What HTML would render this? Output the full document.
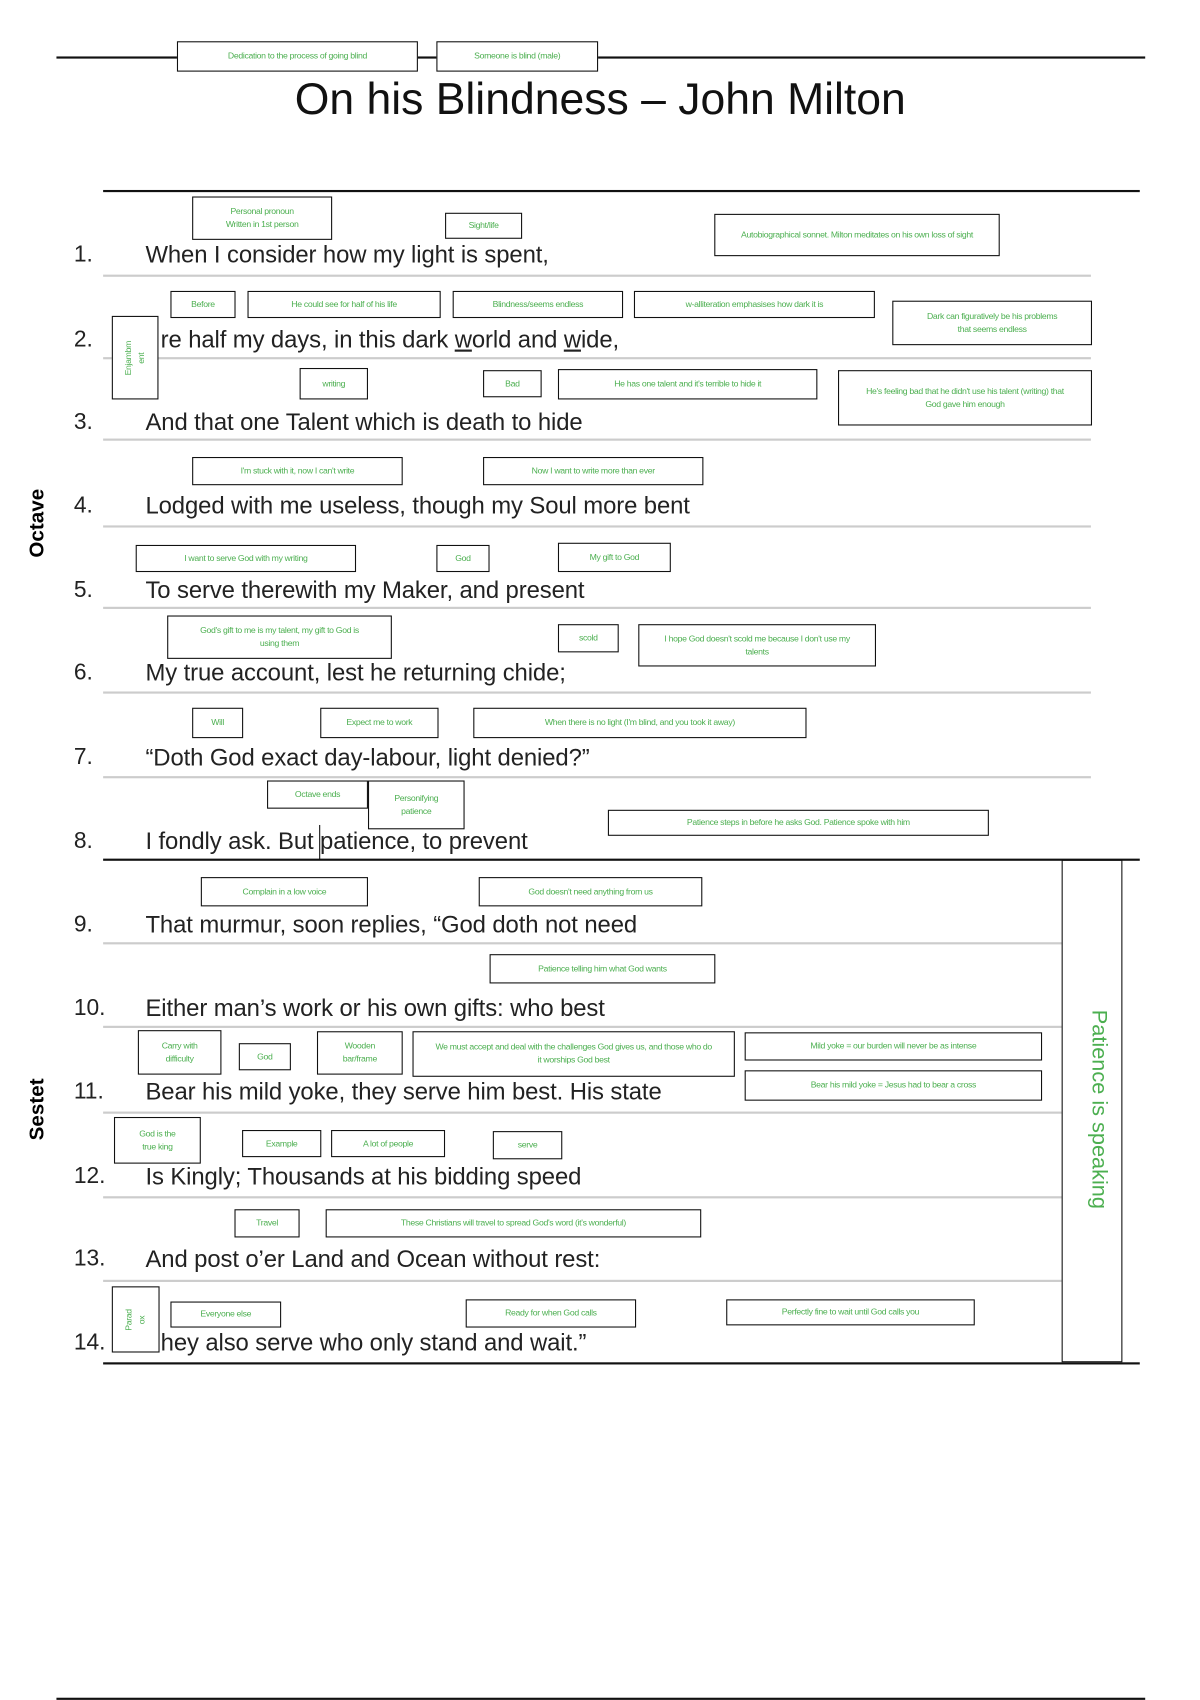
<!DOCTYPE html>
<html><head><meta charset="utf-8"><style>
html,body{margin:0;padding:0;background:#fff;}
body{width:1200px;height:1700px;overflow:hidden;position:relative;}
#c{position:absolute;left:0;top:0;width:1106px;height:1566px;transform:scale(1.0855);transform-origin:0 0;font-family:"Liberation Sans",sans-serif;}
.l{position:absolute;height:0;}
.b{position:absolute;border:1.6px solid #111;background:#fff;box-sizing:border-box;display:flex;align-items:center;justify-content:center;text-align:center;color:#4caf50;font-size:8px;letter-spacing:-0.3px;line-height:12px;padding:0 8px;}
.t{position:absolute;font-size:22px;line-height:24px;color:#222;white-space:nowrap;letter-spacing:-0.1px;}
.n{position:absolute;font-size:21px;line-height:24px;color:#222;left:68px;}
.v{position:absolute;transform:translate(-50%,-50%) rotate(-90deg);white-space:nowrap;}
</style></head><body><div id="c">
<div class="l" style="left:52px;top:52px;width:1003px;border-top:2px solid #111"></div>
<div class="b" style="left:163px;top:38px;width:222px;height:28px">Dedication to the process of going blind</div>
<div class="b" style="left:402px;top:38px;width:149px;height:28px">Someone is blind (male)</div>
<div style="position:absolute;left:0;width:1106px;top:68px;text-align:center;font-size:41px;line-height:46px;color:#111">On his Blindness – John Milton</div>

<div class="l" style="left:95px;top:175px;width:955px;border-top:2.5px solid #111"></div>
<div class="l" style="left:95px;top:253px;width:910px;border-top:2px solid #ccc"></div>
<div class="l" style="left:95px;top:329px;width:910px;border-top:2px solid #ccc"></div>
<div class="l" style="left:95px;top:404px;width:910px;border-top:2px solid #ccc"></div>
<div class="l" style="left:95px;top:484px;width:910px;border-top:2px solid #ccc"></div>
<div class="l" style="left:95px;top:559px;width:910px;border-top:2px solid #ccc"></div>
<div class="l" style="left:95px;top:637px;width:910px;border-top:2px solid #ccc"></div>
<div class="l" style="left:95px;top:715px;width:910px;border-top:2px solid #ccc"></div>
<div class="l" style="left:95px;top:791px;width:955px;border-top:2.5px solid #111"></div>
<div class="l" style="left:95px;top:868px;width:883px;border-top:2px solid #ccc"></div>
<div class="l" style="left:95px;top:945px;width:883px;border-top:2px solid #ccc"></div>
<div class="l" style="left:95px;top:1024px;width:883px;border-top:2px solid #ccc"></div>
<div class="l" style="left:95px;top:1102px;width:883px;border-top:2px solid #ccc"></div>
<div class="l" style="left:95px;top:1179px;width:883px;border-top:2px solid #ccc"></div>
<div class="l" style="left:95px;top:1255px;width:955px;border-top:2.5px solid #111"></div>
<div style="position:absolute;left:978px;top:792px;width:56px;height:463px;border:1.6px solid #111;box-sizing:border-box"></div>
<div class="v" style="left:1012px;top:1022px;color:#4caf50;font-size:20px;transform:translate(-50%,-50%) rotate(90deg)">Patience is speaking</div>
<div class="v" style="left:35px;top:482px;font-weight:bold;font-size:19px">Octave</div>
<div class="v" style="left:35px;top:1022px;font-weight:bold;font-size:19px">Sestet</div>
<div class="l" style="left:52px;top:1564px;width:1003px;border-top:2px solid #111"></div>

<div class="n" style="top:223px">1.</div><div class="t" style="left:134px;top:223px">When I consider how my light is spent,</div>
<div class="n" style="top:301px">2.</div><div class="t" style="left:148px;top:301px">re half my days, in this dark <u>w</u>orld and <u>w</u>ide,</div>
<div class="n" style="top:377px">3.</div><div class="t" style="left:134px;top:377px">And that one Talent which is death to hide</div>
<div class="n" style="top:454px">4.</div><div class="t" style="left:134px;top:454px">Lodged with me useless, though my Soul more bent</div>
<div class="n" style="top:532px">5.</div><div class="t" style="left:134px;top:532px">To serve therewith my Maker, and present</div>
<div class="n" style="top:608px">6.</div><div class="t" style="left:134px;top:608px">My true account, lest he returning chide;</div>
<div class="n" style="top:686px">7.</div><div class="t" style="left:134px;top:686px">“Doth God exact day-labour, light denied?”</div>
<div class="n" style="top:763px">8.</div><div class="t" style="left:134px;top:763px">I fondly ask. But patience, to prevent</div>
<div class="n" style="top:840px">9.</div><div class="t" style="left:134px;top:840px">That murmur, soon replies, “God doth not need</div>
<div class="n" style="top:917px">10.</div><div class="t" style="left:134px;top:917px">Either man’s work or his own gifts: who best</div>
<div class="n" style="top:994px">11.</div><div class="t" style="left:134px;top:994px">Bear his mild yoke, they serve him best. His state</div>
<div class="n" style="top:1072px">12.</div><div class="t" style="left:134px;top:1072px">Is Kingly; Thousands at his bidding speed</div>
<div class="n" style="top:1148px">13.</div><div class="t" style="left:134px;top:1148px">And post o’er Land and Ocean without rest:</div>
<div class="n" style="top:1225px">14.</div><div class="t" style="left:148px;top:1225px">hey also serve who only stand and wait.”</div>
<div class="l" style="left:294px;top:760px;width:0;height:32px;border-left:1.5px solid #111"></div>

<div class="b" style="left:177px;top:181px;width:129px;height:40px">Personal pronoun<br>Written in 1st person</div>
<div class="b" style="left:410px;top:196px;width:71px;height:24px">Sight/life</div>
<div class="b" style="left:658px;top:197px;width:263px;height:39px;padding:0 20px">Autobiographical sonnet. Milton meditates on his own loss of sight</div>

<div class="b" style="left:157px;top:268px;width:60px;height:25px">Before</div>
<div class="b" style="left:228px;top:268px;width:178px;height:25px">He could see for half of his life</div>
<div class="b" style="left:417px;top:268px;width:157px;height:25px">Blindness/seems endless</div>
<div class="b" style="left:584px;top:268px;width:222px;height:25px">w-alliteration emphasises how dark it is</div>
<div class="b" style="left:822px;top:277px;width:184px;height:41px;padding:0 24px">Dark can figuratively be his problems that seems endless</div>
<div class="b" style="left:103px;top:291px;width:43px;height:77px"><span style="transform:rotate(-90deg);display:block;width:60px">Enjambm ent</span></div>

<div class="b" style="left:276px;top:339px;width:63px;height:29px">writing</div>
<div class="b" style="left:445px;top:341px;width:54px;height:25px">Bad</div>
<div class="b" style="left:514px;top:340px;width:239px;height:28px">He has one talent and it's terrible to hide it</div>
<div class="b" style="left:772px;top:341px;width:234px;height:51px;padding:0 20px">He's feeling bad that he didn't use his talent (writing) that God gave him enough</div>

<div class="b" style="left:177px;top:421px;width:194px;height:26px">I'm stuck with it, now I can't write</div>
<div class="b" style="left:445px;top:421px;width:203px;height:26px">Now I want to write more than ever</div>

<div class="b" style="left:125px;top:502px;width:203px;height:25px">I want to serve God with my writing</div>
<div class="b" style="left:402px;top:502px;width:49px;height:25px">God</div>
<div class="b" style="left:514px;top:500px;width:104px;height:27px">My gift to God</div>

<div class="b" style="left:154px;top:567px;width:207px;height:40px;padding:0 20px">God's gift to me is my talent, my gift to God is using them</div>
<div class="b" style="left:514px;top:575px;width:56px;height:26px">scold</div>
<div class="b" style="left:588px;top:575px;width:219px;height:39px;padding:0 20px">I hope God doesn't scold me because I don't use my talents</div>

<div class="b" style="left:177px;top:652px;width:47px;height:28px">Will</div>
<div class="b" style="left:295px;top:652px;width:109px;height:28px">Expect me to work</div>
<div class="b" style="left:436px;top:652px;width:307px;height:28px">When there is no light (I'm blind, and you took it away)</div>

<div class="b" style="left:246px;top:719px;width:93px;height:26px">Octave ends</div>
<div class="b" style="left:339px;top:719px;width:89px;height:45px;padding:0 14px">Personifying patience</div>
<div class="b" style="left:560px;top:746px;width:351px;height:24px">Patience steps in before he asks God. Patience spoke with him</div>

<div class="b" style="left:185px;top:808px;width:154px;height:27px">Complain in a low voice</div>
<div class="b" style="left:441px;top:808px;width:206px;height:27px">God doesn't need anything from us</div>

<div class="b" style="left:451px;top:879px;width:208px;height:27px">Patience telling him what God wants</div>

<div class="b" style="left:127px;top:949px;width:77px;height:41px;padding:0 14px">Carry with difficulty</div>
<div class="b" style="left:220px;top:961px;width:48px;height:25px">God</div>
<div class="b" style="left:292px;top:950px;width:79px;height:40px;padding:0 16px">Wooden bar/frame</div>
<div class="b" style="left:380px;top:950px;width:297px;height:42px;padding:0 20px">We must accept and deal with the challenges God gives us, and those who do it worships God best</div>
<div class="b" style="left:686px;top:951px;width:274px;height:26px">Mild yoke = our burden will never be as intense</div>
<div class="b" style="left:686px;top:986px;width:274px;height:28px">Bear his mild yoke = Jesus had to bear a cross</div>

<div class="b" style="left:105px;top:1029px;width:80px;height:43px;padding:0 16px">God is the true king</div>
<div class="b" style="left:223px;top:1041px;width:73px;height:25px">Example</div>
<div class="b" style="left:305px;top:1041px;width:105px;height:25px">A lot of people</div>
<div class="b" style="left:454px;top:1042px;width:64px;height:26px">serve</div>

<div class="b" style="left:216px;top:1114px;width:60px;height:26px">Travel</div>
<div class="b" style="left:300px;top:1114px;width:346px;height:26px">These Christians will travel to spread God's word (it's wonderful)</div>

<div class="b" style="left:103px;top:1185px;width:44px;height:61px"><span style="transform:rotate(-90deg);display:block;width:50px">Parad ox</span></div>
<div class="b" style="left:157px;top:1199px;width:102px;height:24px">Everyone else</div>
<div class="b" style="left:429px;top:1197px;width:157px;height:26px">Ready for when God calls</div>
<div class="b" style="left:669px;top:1197px;width:229px;height:24px">Perfectly fine to wait until God calls you</div>
</div></body></html>
